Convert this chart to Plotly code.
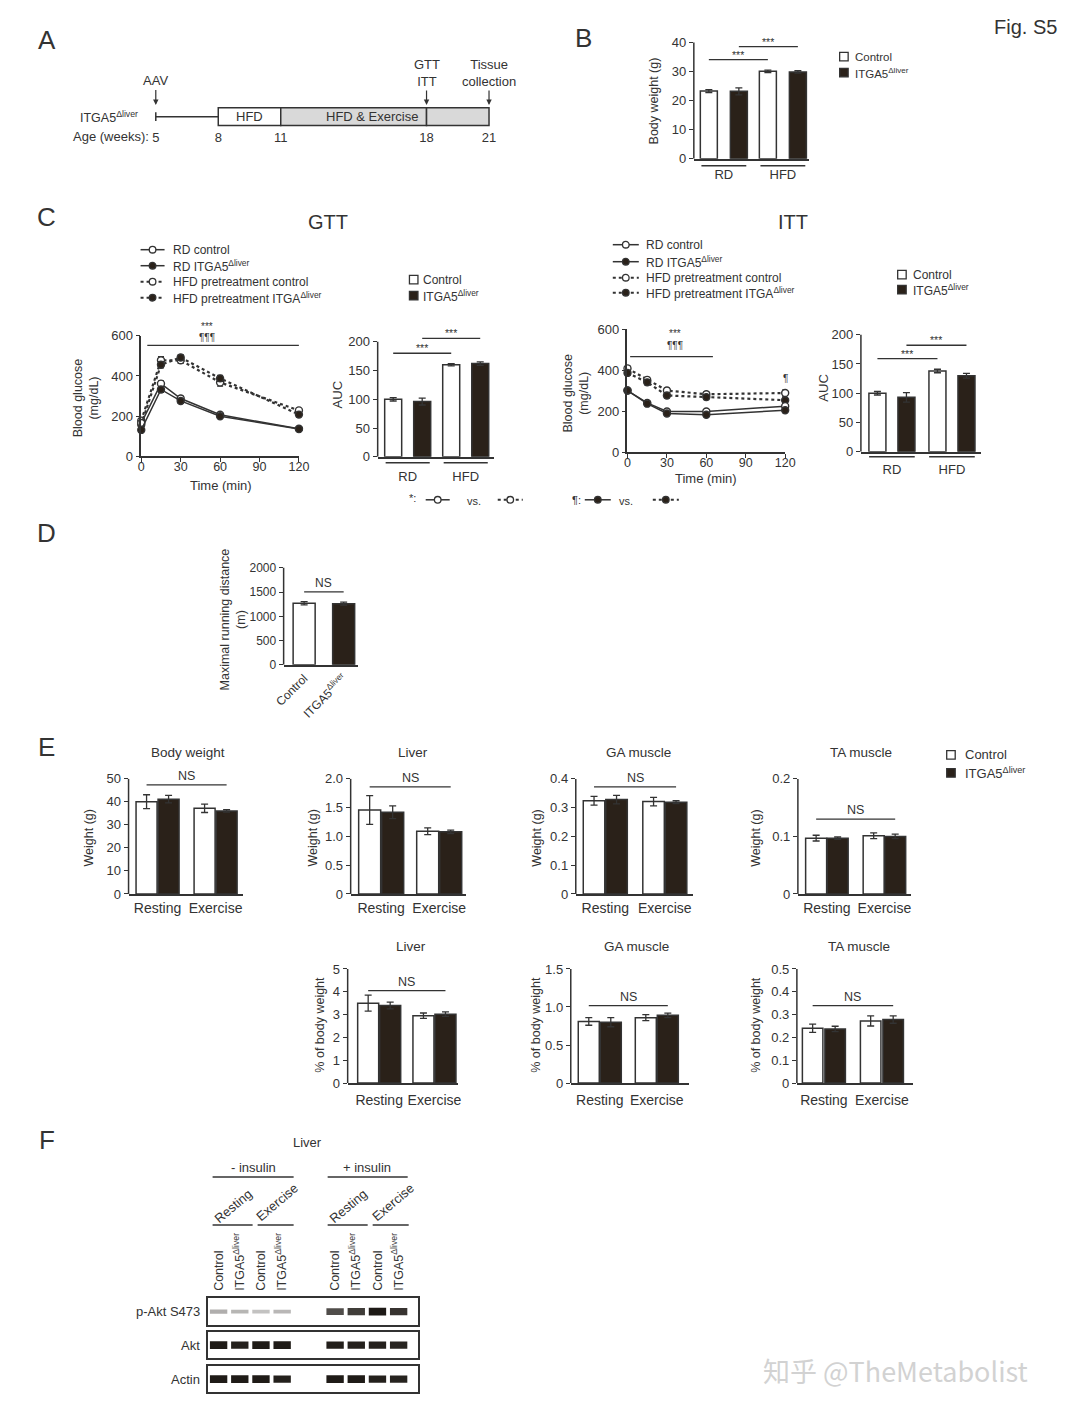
import plotly.graph_objects as go

W, H = 1080, 1414
# The photographed page shows the figure slightly offset and scaled; positions below are
# written in photographed-pixel units and converted back to figure pixels here.
SX, OX = 0.981, 17.5
SY, OY = 0.989, 15.4
INK = '#333333'
DARK = '#2a2119'
FONT = 'Liberation Sans, Arial, Helvetica, sans-serif'
SUP = 'ITGA5<sup>Δliver</sup>'

# ---------------- data ----------------
# A: timeline (weeks of age)
tl_ticks = [5, 8, 11, 18, 21]
tl_phase_start = [8, 11, 18]
tl_phase_end = [11, 18, 21]
tl_phase_fill = ['white', '#d9d9d9', '#d9d9d9']
tl_phase_text = ['HFD', 'HFD & Exercise']
tl_phase_text_x = [9.5, 15.4]
tl_event_week = [5, 18, 21]
tl_event_text = ['AAV', 'GTT<br>ITT', 'Tissue<br>collection']

# B: body weight
b_groups = ['RD', 'HFD']
b_ctrl = [23.3, 30.1]
b_ctrl_err = [0.5, 0.4]
b_kd = [23.2, 29.9]
b_kd_err = [1.2, 0.4]

# C: GTT / ITT curves
time_min = [0, 15, 30, 60, 120]
curve_xticks = [0, 30, 60, 90, 120]
curve_yticks = [0, 200, 400, 600]
gtt_rd_ctrl = [166, 362, 288, 207, 138]
gtt_rd_ctrl_err = [10, 14, 12, 10, 8]
gtt_rd_kd = [132, 333, 276, 200, 136]
gtt_rd_kd_err = [8, 14, 12, 10, 8]
gtt_hfd_ctrl = [178, 478, 478, 368, 229]
gtt_hfd_ctrl_err = [12, 18, 15, 18, 12]
gtt_hfd_kd = [158, 456, 492, 388, 208]
gtt_hfd_kd_err = [10, 16, 14, 15, 12]
gtt_auc_ctrl = [100, 160]
gtt_auc_ctrl_err = [3, 2]
gtt_auc_kd = [96, 162]
gtt_auc_kd_err = [6, 3]

itt_rd_ctrl = [300, 240, 198, 198, 224]
itt_rd_ctrl_err = [8, 8, 8, 8, 12]
itt_rd_kd = [300, 236, 188, 182, 204]
itt_rd_kd_err = [8, 8, 8, 8, 12]
itt_hfd_ctrl = [408, 352, 300, 282, 288]
itt_hfd_ctrl_err = [12, 12, 12, 12, 15]
itt_hfd_kd = [386, 340, 276, 268, 253]
itt_hfd_kd_err = [12, 12, 12, 12, 15]
itt_auc_ctrl = [100, 138]
itt_auc_ctrl_err = [3, 3]
itt_auc_kd = [93, 130]
itt_auc_kd_err = [8, 4]

# D: maximal running distance
d_groups = ['Control', SUP]
d_vals = [1270, 1262]
d_err = [35, 30]

# E: tissue weights
e_groups = ['Resting', 'Exercise']
bw_ctrl = [40.1, 37.2]
bw_ctrl_err = [3.0, 1.8]
bw_kd = [41.2, 36.1]
bw_kd_err = [1.6, 0.5]
liver_ctrl = [1.46, 1.09]
liver_ctrl_err = [0.25, 0.06]
liver_kd = [1.42, 1.08]
liver_kd_err = [0.11, 0.03]
ga_ctrl = [0.324, 0.321]
ga_ctrl_err = [0.015, 0.015]
ga_kd = [0.328, 0.319]
ga_kd_err = [0.015, 0.005]
ta_ctrl = [0.097, 0.101]
ta_ctrl_err = [0.005, 0.005]
ta_kd = [0.097, 0.100]
ta_kd_err = [0.002, 0.004]
liverp_ctrl = [3.5, 2.95]
liverp_ctrl_err = [0.35, 0.12]
liverp_kd = [3.4, 3.02]
liverp_kd_err = [0.15, 0.1]
gap_ctrl = [0.81, 0.86]
gap_ctrl_err = [0.05, 0.04]
gap_kd = [0.80, 0.89]
gap_kd_err = [0.06, 0.03]
tap_ctrl = [0.240, 0.272]
tap_ctrl_err = [0.018, 0.022]
tap_kd = [0.237, 0.278]
tap_kd_err = [0.012, 0.016]

# F: western blot (relative band intensity per lane)
blot_lanes = ['Control', SUP, 'Control', SUP, 'Control', SUP, 'Control', SUP]
blot_rows = ['p-Akt S473', 'Akt', 'Actin']
pakt_int = [0.25, 0.22, 0.16, 0.2, 0.72, 0.8, 0.97, 0.84]
akt_int = [0.96, 0.93, 0.96, 0.95, 0.94, 0.93, 0.93, 0.91]
actin_int = [0.95, 0.95, 0.95, 0.93, 0.95, 0.95, 0.93, 0.92]

# ---------------- helpers ----------------
fig = go.Figure()
layout = {}
shapes, annots = [], []
_n = [0]


def X(p):
    return ((p - OX) / SX) / W


def Y(p):
    return 1 - ((p - OY) / SY) / H


def axes(x0, x1, ytop, ybot, xr, yr, xkw=None, ykw=None):
    _n[0] += 1
    s = '' if _n[0] == 1 else str(_n[0])
    bx = dict(domain=[X(x0), X(x1)], range=xr, anchor='y' + s, showgrid=False, zeroline=False,
              showline=True, linecolor=INK, linewidth=1.5, ticks='outside', ticklen=4,
              tickwidth=1.3, tickcolor=INK, tickfont=dict(size=13, color=INK, family=FONT),
              fixedrange=True)
    by = dict(bx)
    by.update(domain=[Y(ybot), Y(ytop)], range=yr, anchor='x' + s)
    if xkw:
        bx.update(xkw)
    if ykw:
        by.update(ykw)
    layout['xaxis' + s] = bx
    layout['yaxis' + s] = by
    return 'x' + s, 'y' + s


def txt(x, y, s, size=13, xa='center', ya='middle', angle=0, color=INK, family=FONT,
        xref='paper', yref='paper', **kw):
    annots.append(dict(x=X(x) if xref == 'paper' else x, y=Y(y) if yref == 'paper' else y,
                       xref=xref, yref=yref, text=s, showarrow=False, xanchor=xa, yanchor=ya,
                       textangle=angle, font=dict(size=size, color=color, family=family), **kw))


def dtxt(xa, ya, x, y, s, size=10, yshift=0):
    annots.append(dict(xref=xa, yref=ya, x=x, y=y, text=s, showarrow=False, yshift=yshift,
                       font=dict(size=size, color=INK, family=FONT)))


def pline(x0, y0, x1, y1, w=1.5, dash='solid', color=INK):
    shapes.append(dict(type='line', xref='paper', yref='paper', x0=X(x0), x1=X(x1),
                       y0=Y(y0), y1=Y(y1), line=dict(color=color, width=w, dash=dash)))


def pdot(x, y, filled, r=3.3):
    shapes.append(dict(type='circle', xref='paper', yref='paper', x0=X(x - r), x1=X(x + r),
                       y0=Y(y + r), y1=Y(y - r), line=dict(color=INK, width=1.3),
                       fillcolor=DARK if filled else 'white'))


def psq(x, y, fill, s=8.5):
    shapes.append(dict(type='rect', xref='paper', yref='paper', x0=X(x - s / 2), x1=X(x + s / 2),
                       y0=Y(y + s / 2), y1=Y(y - s / 2), line=dict(color=INK, width=1.3),
                       fillcolor=fill))


def bar_key(x, y1, y2, tx, size=12):
    psq(x, y1, 'white')
    psq(x, y2, DARK)
    txt(tx, y1, 'Control', size=size, xa='left')
    txt(tx, y2, SUP, size=size, xa='left')


def line_key(x0, x1, y, dash, filled):
    pline(x0, y, x1, y, w=1.5 if dash == 'solid' else 2, dash=dash)
    pdot((x0 + x1) / 2, y, filled)


def bar_panel(cats, ctrl, ctrl_e, kd, kd_e, ax, end, c0, c1, y0, ytop, yv, ticks, ticktext,
              bw, d, standoff=5, ext=20, xfont=13):
    S = c1 - c0
    yr = [0, yv * (1 + ext / (y0 - ytop))]
    ykw = dict(showline=False, tickvals=ticks)
    if ticktext:
        ykw['ticktext'] = ticktext
    xa, ya = axes(ax, end, ytop - ext, y0, [(ax - c0) / S, (end - c0) / S], yr,
                  xkw=dict(type='category', ticks='', ticklabelstandoff=standoff,
                           tickfont=dict(size=xfont, color=INK, family=FONT)),
                  ykw=ykw)
    shapes.append(dict(type='line', xref=xa + ' domain', yref=ya, x0=0, x1=0, y0=0, y1=yv,
                       line=dict(color=INK, width=1.5)))
    w = bw / S
    h = d / (2 * S)
    for vals, err, fill, off in ((ctrl, ctrl_e, 'white', -h), (kd, kd_e, DARK, h)):
        fig.add_trace(go.Bar(x=cats, y=vals, width=w, offset=off - w / 2, xaxis=xa, yaxis=ya,
                             marker=dict(color=fill, line=dict(color=INK, width=1.5)),
                             error_y=dict(type='data', array=err, color=INK, thickness=1.3,
                                          width=3.5)))
    return xa, ya, h


def bracket(xa, ya, x0, x1, yv, label, size=10.5, shift=-3):
    shapes.append(dict(type='line', xref=xa, yref=ya, x0=x0, x1=x1, y0=yv, y1=yv,
                       line=dict(color=INK, width=1.3)))
    annots.append(dict(xref=xa, yref=ya, x=(x0 + x1) / 2, y=yv, text=label, showarrow=False,
                       yanchor='bottom', yshift=shift,
                       font=dict(size=size, color=INK, family=FONT)))


def group_lines(xa, n, ypx, half=0.38):
    for i in range(n):
        shapes.append(dict(type='line', xref=xa, yref='paper', x0=i - half, x1=i + half,
                           y0=Y(ypx), y1=Y(ypx), line=dict(color=INK, width=1.5)))


def line_panel(x0, x1, ytop, ybot, series):
    xa, ya = axes(x0, x1, ytop, ybot, [0, 120], [0, 600],
                  xkw=dict(tickvals=curve_xticks, ticklabelstandoff=-6,
                           tickfont=dict(size=12.5, color=INK, family=FONT)),
                  ykw=dict(tickvals=curve_yticks))
    for vals, err, dash, filled in series:
        fig.add_trace(go.Scatter(x=time_min, y=vals, xaxis=xa, yaxis=ya, mode='lines+markers',
                                 cliponaxis=False,
                                 line=dict(color=INK, width=1.5 if dash == 'solid' else 2.2,
                                           dash=dash),
                                 marker=dict(symbol='circle', size=7,
                                             color=DARK if filled else 'white',
                                             line=dict(color=INK, width=1.4)),
                                 error_y=dict(type='data', array=err, color=INK, thickness=1.2,
                                              width=3)))
    return xa, ya


# ---------------- panel letters ----------------
for L, lx, ly in (('A', 46, 40), ('B', 583, 38), ('C', 46, 217), ('D', 46, 533),
                  ('E', 46, 747), ('F', 46, 1140)):
    txt(lx, ly, L, size=26)
txt(1025, 27, 'Fig. S5', size=20)

# ---------------- A: timeline ----------------
xa, ya = axes(134.4, 509.1, 106.4, 127.6, [4, 22], [-0.1, 1.1],
              xkw=dict(showline=False, ticks='', tickvals=tl_ticks, ticklabelstandoff=1),
              ykw=dict(visible=False))
shapes.append(dict(type='line', xref=xa, yref=ya, x0=tl_ticks[0], x1=tl_phase_start[0],
                   y0=0.5, y1=0.5, line=dict(color=INK, width=1.5)))
shapes.append(dict(type='line', xref=xa, yref=ya, x0=tl_ticks[0], x1=tl_ticks[0],
                   y0=0.25, y1=0.75, line=dict(color=INK, width=1.5)))
for s0, s1, f in zip(tl_phase_start, tl_phase_end, tl_phase_fill):
    shapes.append(dict(type='rect', xref=xa, yref=ya, x0=s0, x1=s1, y0=0, y1=1,
                       fillcolor=f, line=dict(color=INK, width=1.5)))
for t, tx in zip(tl_phase_text, tl_phase_text_x):
    annots.append(dict(xref=xa, yref=ya, x=tx, y=0.5, text=t, showarrow=False,
                       font=dict(size=13, color=INK, family=FONT)))
for wk, t in zip(tl_event_week, tl_event_text):
    annots.append(dict(xref=xa, yref=ya, x=wk, y=1.05, yshift=2, text=t, showarrow=True,
                       arrowhead=2, arrowsize=0.9, arrowwidth=1.2, arrowcolor=INK, ax=0,
                       ay=-24 if '<br>' not in t else -32,
                       font=dict(size=13, color=INK, family=FONT)))
txt(108, 117, SUP, size=12.5)
txt(150, 137, 'Age (weeks):', size=13, xa='right')

# ---------------- B ----------------
xa, ya, h = bar_panel(b_groups, b_ctrl, b_ctrl_err, b_kd, b_kd_err, 693, 808, 723, 782, 159, 43,
                      40, [0, 10, 20, 30, 40], None, 17, 30, standoff=3)
group_lines(xa, 2, 166)
bracket(xa, ya, 0 - h, 1 - h, 34.1, '***')
bracket(xa, ya, 0 + h, 1 + h, 38.6, '***')
txt(653, 101, 'Body weight (g)', size=12.5, angle=-90)
bar_key(843, 57, 73, 852, size=11.5)

# ---------------- C: GTT ----------------
txt(327, 222, 'GTT', size=20)
xa, ya = line_panel(140.7, 298.3, 336, 456.7, [
    (gtt_hfd_ctrl, gtt_hfd_ctrl_err, 'dot', False),
    (gtt_hfd_kd, gtt_hfd_kd_err, 'dot', True),
    (gtt_rd_ctrl, gtt_rd_ctrl_err, 'solid', False),
    (gtt_rd_kd, gtt_rd_kd_err, 'solid', True),
])
shapes.append(dict(type='line', xref=xa, yref=ya, x0=4.6, x1=120, y0=552, y1=552,
                   line=dict(color=INK, width=1.3)))
dtxt(xa, ya, 50, 598, '***', yshift=10)
dtxt(xa, ya, 50, 590, '¶¶¶')
txt(85, 398, 'Blood glucose<br>(mg/dL)', size=12.5, angle=-90)
txt(220, 486, 'Time (min)', size=13)
for yy, dash, filled, lab in ((250, 'solid', False, 'RD control'),
                              (266, 'solid', True, 'RD ' + SUP),
                              (282, 'dot', False, 'HFD pretreatment control'),
                              (298, 'dot', True, 'HFD pretreatment ITGA<sup>Δliver</sup>')):
    line_key(140, 164, yy, dash, filled)
    txt(170, yy, lab, size=12, xa='left')

xa, ya, h = bar_panel(b_groups, gtt_auc_ctrl, gtt_auc_ctrl_err, gtt_auc_kd, gtt_auc_kd_err,
                      377, 493, 407, 465, 457, 342, 200, [0, 50, 100, 150, 200], None, 17, 29,
                      standoff=7)
group_lines(xa, 2, 463)
bracket(xa, ya, 0 - h, 1 - h, 180, '***')
bracket(xa, ya, 0 + h, 1 + h, 206, '***')
txt(337, 395, 'AUC', size=13, angle=-90)
bar_key(413, 280, 296, 420)

# ---------------- C: ITT ----------------
txt(792, 222, 'ITT', size=20)
xa, ya = line_panel(626.7, 784.3, 329.3, 452.3, [
    (itt_hfd_ctrl, itt_hfd_ctrl_err, 'dot', False),
    (itt_hfd_kd, itt_hfd_kd_err, 'dot', True),
    (itt_rd_ctrl, itt_rd_ctrl_err, 'solid', False),
    (itt_rd_kd, itt_rd_kd_err, 'solid', True),
])
shapes.append(dict(type='line', xref=xa, yref=ya, x0=2, x1=65, y0=465, y1=465,
                   line=dict(color=INK, width=1.3)))
dtxt(xa, ya, 36, 578, '***')
dtxt(xa, ya, 36, 518, '¶¶¶')
dtxt(xa, ya, 120, 360, '¶')
txt(575, 393, 'Blood glucose<br>(mg/dL)', size=12.5, angle=-90)
txt(705, 479, 'Time (min)', size=13)
for yy, dash, filled, lab in ((245, 'solid', False, 'RD control'),
                              (262, 'solid', True, 'RD ' + SUP),
                              (278, 'dot', False, 'HFD pretreatment control'),
                              (293, 'dot', True, 'HFD pretreatment ITGA<sup>Δliver</sup>')):
    line_key(612, 638, yy, dash, filled)
    txt(643, yy, lab, size=12, xa='left')

xa, ya, h = bar_panel(b_groups, itt_auc_ctrl, itt_auc_ctrl_err, itt_auc_kd, itt_auc_kd_err,
                      860, 980, 891, 951, 452, 335, 200, [0, 50, 100, 150, 200], None, 17, 29,
                      standoff=5)
group_lines(xa, 2, 457)
bracket(xa, ya, 0 - h, 1 - h, 159, '***')
bracket(xa, ya, 0 + h, 1 + h, 182, '***')
txt(823, 388, 'AUC', size=13, angle=-90)
bar_key(901, 275, 290, 910)

# significance key row
txt(412, 498, '*:', size=11)
line_key(425, 449, 500, 'solid', False)
txt(473, 501, 'vs.', size=11)
line_key(497, 522, 500, 'dot', False)
txt(576, 500, '¶:', size=11)
line_key(584, 610, 500, 'solid', True)
txt(625, 501, 'vs.', size=11)
line_key(652, 678, 500, 'dot', True)

# ---------------- D ----------------
S = 343 - 303.5
xa, ya = axes(283, 357, 548, 665, [(283 - 303.5) / S, (357 - 303.5) / S],
              [0, 2000 * (1 + 20 / 97)],
              xkw=dict(type='category', ticks='', tickangle=-45,
                       tickfont=dict(size=12, color=INK, family=FONT)),
              ykw=dict(showline=False, tickvals=[0, 500, 1000, 1500, 2000],
                       tickfont=dict(size=12, color=INK, family=FONT)))
shapes.append(dict(type='line', xref=xa + ' domain', yref=ya, x0=0, x1=0, y0=0, y1=2000,
                   line=dict(color=INK, width=1.5)))
fig.add_trace(go.Bar(x=d_groups, y=d_vals, width=22 / S, xaxis=xa, yaxis=ya,
                     marker=dict(color=['white', DARK], line=dict(color=INK, width=1.5)),
                     error_y=dict(type='data', array=d_err, color=INK, thickness=1.3, width=3.5)))
bracket(xa, ya, 0, 1, 1505, 'NS', size=12, shift=0)
txt(232, 620, 'Maximal running distance<br>(m)', size=12.5, angle=-90)

# ---------------- E row 1 ----------------
row1 = [
    ('Body weight', bw_ctrl, bw_ctrl_err, bw_kd, bw_kd_err, 128, 242, 157, 215, 50,
     [0, 10, 20, 30, 40, 50], None, 21, 22, 47.4, 187, 88),
    ('Liver', liver_ctrl, liver_ctrl_err, liver_kd, liver_kd_err, 350, 465, 380.5, 438.5, 2.0,
     [0, 0.5, 1.0, 1.5, 2.0], ['0', '0.5', '1.0', '1.5', '2.0'], 22, 23, 1.86, 412, 312),
    ('GA muscle', ga_ctrl, ga_ctrl_err, ga_kd, ga_kd_err, 575, 692, 604.5, 664, 0.4,
     [0, 0.1, 0.2, 0.3, 0.4], ['0', '0.1', '0.2', '0.3', '0.4'], 21.5, 22.5, 0.372, 638, 536),
    ('TA muscle', ta_ctrl, ta_ctrl_err, ta_kd, ta_kd_err, 797, 910, 826, 883.5, 0.2,
     [0, 0.1, 0.2], ['0', '0.1', '0.2'], 21, 21.5, 0.130, 860, 755),
]
for (title, c, ce, k, ke, ax, end, c0, c1, yv, tv, tt, bw, d, ns, tx, ytx) in row1:
    xa, ya, h = bar_panel(e_groups, c, ce, k, ke, ax, end, c0, c1, 894, 779, yv, tv, tt, bw, d,
                          standoff=1, xfont=14)
    bracket(xa, ya, 0 - h, 1 + h, ns, 'NS', size=12.5, shift=0)
    txt(tx, 753, title, size=13.5)
    txt(ytx, 838, 'Weight (g)', size=12.5, angle=-90)
bar_key(950, 755, 773, 962, size=13)

# ---------------- E row 2 ----------------
row2 = [
    ('Liver', liverp_ctrl, liverp_ctrl_err, liverp_kd, liverp_kd_err, 347, 457, 378.5, 433.75, 5,
     [0, 1, 2, 3, 4, 5], None, 21, 22, 4.05, 410, 319),
    ('GA muscle', gap_ctrl, gap_ctrl_err, gap_kd, gap_kd_err, 570, 688, 599, 656, 1.5,
     [0, 0.5, 1.0, 1.5], ['0', '0.5', '1.0', '1.5'], 21, 22, 1.017, 636, 535),
    ('TA muscle', tap_ctrl, tap_ctrl_err, tap_kd, tap_kd_err, 796, 912, 823, 881, 0.5,
     [0, 0.1, 0.2, 0.3, 0.4, 0.5], ['0', '0.1', '0.2', '0.3', '0.4', '0.5'], 20.5, 22.5, 0.339,
     858, 755),
]
for (title, c, ce, k, ke, ax, end, c0, c1, yv, tv, tt, bw, d, ns, tx, ytx) in row2:
    xa, ya, h = bar_panel(e_groups, c, ce, k, ke, ax, end, c0, c1, 1083, 969, yv, tv, tt, bw, d,
                          standoff=3, xfont=14)
    bracket(xa, ya, 0 - h, 1 + h, ns, 'NS', size=12.5, shift=0)
    txt(tx, 947, title, size=13.5)
    txt(ytx, 1025, '% of body weight', size=12.5, angle=-90)

# ---------------- F: blot ----------------
lane_x = [i + (1.5 if i >= 4 else 0) for i in range(len(blot_lanes))]
for k, (t, b, inten) in enumerate(((1298, 1325, pakt_int), (1332, 1358, akt_int),
                                   (1366, 1392, actin_int))):
    xkw = dict(mirror=True, ticks='', showticklabels=(k == 0), side='top', tickvals=lane_x,
               ticktext=blot_lanes, tickangle=-90, ticklabelstandoff=3,
               tickfont=dict(size=12.5, color=INK, family=FONT))
    ykw = dict(mirror=True, ticks='', showticklabels=False)
    xa, ya = axes(207, 417, t, b, [-0.52, 9.4], [0, 1], xkw, ykw)
    thick = [0.1 + 0.2 * v for v in inten]
    fig.add_trace(go.Bar(x=lane_x, y=thick, base=[0.5 - v / 2 for v in thick], width=0.82,
                         xaxis=xa, yaxis=ya,
                         marker=dict(color=['rgba(22,18,14,%.2f)' % (0.12 + 0.88 * v)
                                            for v in inten], line=dict(width=0))))
    txt(201, (t + b) / 2, blot_rows[k], size=13, xa='right')

txt(307, 1142, 'Liver', size=13)
txt(253, 1167, '- insulin', size=13)
txt(366, 1167, '+ insulin', size=13)
pline(212, 1177, 293, 1177)
pline(327, 1177, 407, 1177)
for cx, cy, lab in ((232, 1206, 'Resting'), (276, 1202, 'Exercise'),
                    (347, 1206, 'Resting'), (392, 1202, 'Exercise')):
    txt(cx, cy, lab, size=13, angle=-40)
for a, b in ((212, 252), (257, 293), (327, 367), (372, 408)):
    pline(a, 1225, b, 1225)

# watermark
txt(895, 1370, '知乎 @TheMetabolist', size=27, color='#d2d2d2', family='Noto Sans CJK SC')

fig.update_layout(width=W, height=H, margin=dict(l=0, r=0, t=0, b=0),
                  paper_bgcolor='white', plot_bgcolor='rgba(0,0,0,0)', showlegend=False,
                  font=dict(family=FONT, color=INK, size=13),
                  shapes=shapes, annotations=annots, **layout)
fig.write_html('out.html')
